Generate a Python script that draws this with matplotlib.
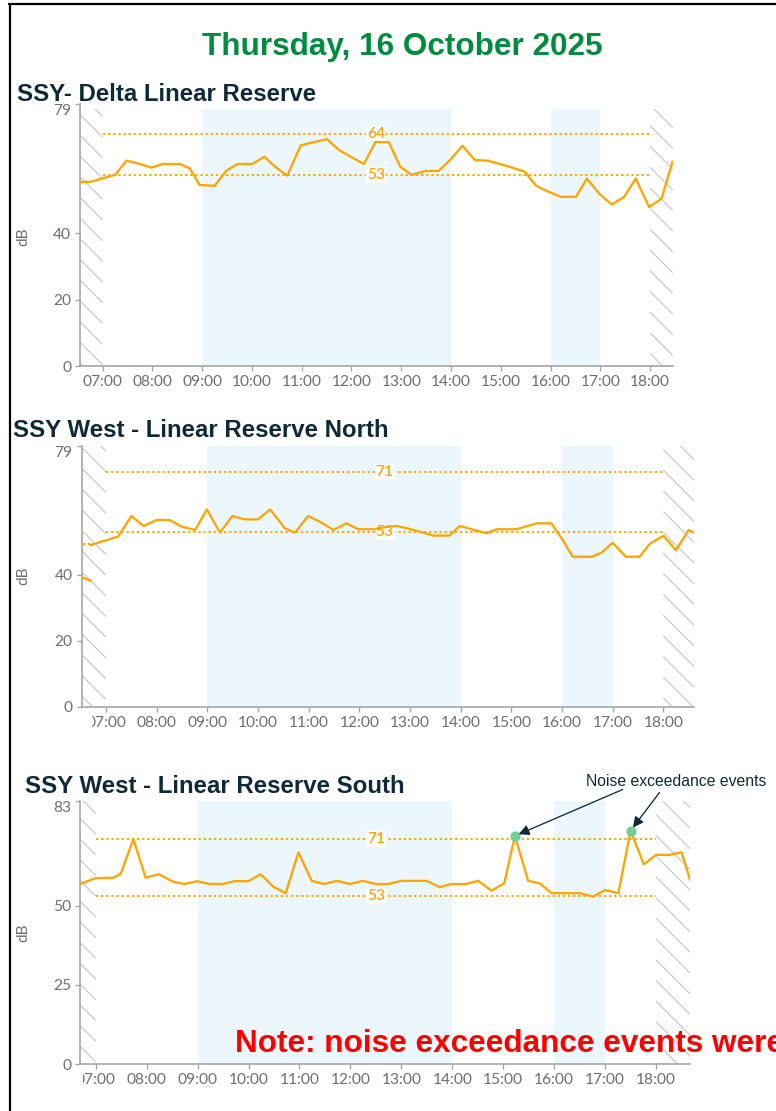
import numpy as np
import matplotlib
matplotlib.use("Agg")
import matplotlib.pyplot as plt
from matplotlib.lines import Line2D
from matplotlib.collections import LineCollection
from matplotlib.transforms import Bbox, TransformedBbox, IdentityTransform

# ---------------- data ----------------
page_title = "Thursday, 16 October 2025"
hour_ticks = list(range(7, 19))
hour_labels = [f"{h:02d}:00" for h in hour_ticks]
work_periods = [(9, 14), (16, 17)]
monitor_start, monitor_end = 7, 18

delta_title = "SSY- Delta Linear Reserve"
delta_t = [6.55, 6.75, 7.0, 7.25, 7.48, 7.68, 7.98, 8.21, 8.55, 8.75, 8.95, 9.25, 9.48,
           9.71, 10.01, 10.25, 10.48, 10.71, 10.98, 11.21, 11.51, 11.75, 12.01, 12.25,
           12.48, 12.75, 12.98, 13.21, 13.48, 13.75, 13.98, 14.23, 14.48, 14.75, 14.98,
           15.21, 15.48, 15.71, 15.95, 16.21, 16.51, 16.73, 16.98, 17.23, 17.48, 17.71,
           17.98, 18.23, 18.45]
delta_db = [55.5, 55.5, 56.6, 57.6, 61.9, 61.2, 59.8, 60.9, 60.9, 59.6, 54.6, 54.3, 58.8,
            60.9, 60.9, 63.1, 59.9, 57.4, 66.5, 67.4, 68.4, 65.1, 62.9, 60.9,
            67.5, 67.5, 60.1, 57.6, 58.8, 58.8, 62.1, 66.4, 62.1, 61.9, 60.9,
            59.9, 58.6, 54.3, 52.6, 51.0, 51.0, 56.5, 51.9, 48.7, 51.0, 56.5,
            47.9, 50.5, 61.6]
delta_limits = [64, 53]
delta_limit_levels = [69.9, 57.6]
delta_yticks = [0, 20, 40, 79]

north_title = "SSY West - Linear Reserve North"
north_t = [6.69, 7.01, 7.24, 7.50, 7.74, 8.00, 8.26, 8.49, 8.76, 8.99, 9.25, 9.49, 9.74,
           10.00, 10.24, 10.53, 10.73, 10.99, 11.22, 11.49, 11.75, 11.98, 12.27, 12.57,
           12.74, 13.02, 13.46, 13.78, 13.98, 14.22, 14.51, 14.71, 15.10, 15.50, 15.79,
           16.00, 16.21, 16.59, 16.78, 17.00, 17.26, 17.53, 17.74, 18.00, 18.25, 18.50,
           18.62]
north_db = [48.9, 50.4, 51.5, 57.7, 54.7, 56.5, 56.5, 54.5, 53.5, 59.7, 52.7, 57.7, 56.7,
            56.7, 59.7, 54.0, 52.7, 57.7, 56.0, 53.5, 55.5, 53.7, 53.7, 54.5,
            54.7, 53.7, 51.8, 51.8, 54.7, 53.7, 52.5, 53.7, 53.7, 55.5, 55.5,
            50.8, 45.4, 45.4, 46.6, 49.6, 45.4, 45.4, 49.4, 51.7, 47.4, 53.5,
            52.5]
north_gap_t = [6.52, 6.69]
north_gap_db = [49.2, 49.2]
north_prev_t = [6.52, 6.70]
north_prev_db = [39.2, 38.1]
north_limits = [71, 53]
north_limit_levels = [71, 53]
north_yticks = [0, 20, 40, 79]

south_title = "SSY West - Linear Reserve South"
south_t = [6.69, 6.99, 7.35, 7.49, 7.74, 7.98, 8.24, 8.52, 8.75, 8.99, 9.24, 9.49, 9.73,
           10.00, 10.24, 10.49, 10.73, 10.98, 11.24, 11.48, 11.74, 11.99, 12.24, 12.50,
           12.74, 13.01, 13.50, 13.75, 13.99, 14.27, 14.51, 14.77, 15.02, 15.23, 15.49,
           15.72, 15.95, 16.25, 16.51, 16.76, 17.00, 17.26, 17.50, 17.76, 18.00, 18.27,
           18.50, 18.67]
south_db = [56.8, 58.6, 58.8, 60.0, 71.0, 58.8, 59.9, 57.5, 56.8, 57.7, 56.8, 56.8, 57.7,
            57.7, 59.9, 55.9, 53.9, 66.8, 57.8, 56.8, 57.8, 56.8, 57.8, 56.8,
            56.8, 57.8, 57.8, 55.8, 56.8, 56.8, 57.8, 54.7, 57.0, 72.0, 57.8,
            57.0, 53.9, 53.9, 53.9, 52.8, 54.9, 53.9, 73.6, 63.0, 66.0, 66.0,
            66.8, 58.1]
south_limits = [71, 53]
south_limit_levels = [71, 53]
south_yticks = [0, 25, 50, 83]
event_t = [15.23, 17.50]
event_db = [72.0, 73.6]
event_text = "Noise exceedance events"
note_text = "Note: noise exceedance events were"

# ---------------- style ----------------
DPI = 124
W, H = 776, 1111
PT = 72 / DPI          # points per pixel
ORANGE = "#FFA500"
SHADE = "#EBF6FD"
HATCH = "#C8C8C8"
HATCH_STEP = 20.7      # pixels between hatch lines
AXIS = "#A3A3A3"
TICKTXT = "#6E6E6E"
NAVY = "#0E2A38"
GREEN = "#008C3F"
EVENT = "#6FD096"

plt.rcParams["font.family"] = ["Lato", "DejaVu Sans"]

fig = plt.figure(figsize=((W + 0.01) / DPI, (H + 0.01) / DPI), dpi=DPI)
fig.patch.set_facecolor("white")


def fx(x):
    return x / W


def fy(y):
    return 1 - y / H


def hatch_span(ax, t0, t1, top_frac):
    """Diagonal '\\' texture over the time span t0..t1 (display pixels)."""
    (x0, y0), = ax.transAxes.transform([(0, 0)])
    (_, y1), = ax.transAxes.transform([(0, top_frac)])
    xa = ax.transData.transform((t0, 0))[0]
    xb = ax.transData.transform((t1, 0))[0]
    xa, xb = max(xa, x0), xb
    # in display coords (y up) a '\' line is y = -x + c
    cmin, cmax = y0 + xa, y1 + xb
    cs = np.arange(np.floor(cmin / HATCH_STEP) * HATCH_STEP, cmax + HATCH_STEP, HATCH_STEP)
    segs = [[(xa, -xa + c), (xb, -xb + c)] for c in cs]
    lc = LineCollection(segs, colors=HATCH, linewidths=1.2 * PT,
                        transform=IdentityTransform(), zorder=0.5)
    ax.add_collection(lc, autolim=False)
    lc.set_clip_box(Bbox.from_extents(xa, y0, xb, y1))


def panel(box, xlim, ylim, yticks, t, db, limits, levels, title, title_xy, ylab_y,
          clip_left=None, shade_top=1.0):
    left, top, right, bottom = box
    ax = fig.add_axes([fx(left), fy(bottom), (right - left) / W, (bottom - top) / H])
    ax.set_xlim(*xlim)
    ax.set_ylim(*ylim)
    for a, b in work_periods:
        ax.axvspan(a, b, ymax=shade_top, color=SHADE, lw=0, zorder=0)
    hatch_span(ax, xlim[0], monitor_start, shade_top)
    hatch_span(ax, monitor_end, xlim[1], shade_top)
    for lim, lev in zip(limits, levels):
        ax.hlines(lev, monitor_start, monitor_end, colors=ORANGE, lw=1.9 * PT,
                  linestyles=(0, (1.2, 1.5)), zorder=1.5)
        ax.text(12.5, lev, str(lim), ha="center", va="center", color=ORANGE,
                fontsize=15.5 * PT, fontweight="semibold", zorder=2,
                bbox=dict(facecolor="white", edgecolor="none", pad=0.5))
    ax.plot(t, db, color=ORANGE, lw=2.3 * PT, zorder=3, solid_joinstyle="round")
    for s in ("top", "right"):
        ax.spines[s].set_visible(False)
    for s in ("left", "bottom"):
        ax.spines[s].set_color(AXIS)
        ax.spines[s].set_linewidth(1.6 * PT)
    ax.set_xticks(hour_ticks)
    ax.set_xticklabels(hour_labels)
    ax.set_yticks(yticks)
    ax.tick_params(axis="x", length=5 * PT, width=1.3 * PT, color=AXIS,
                   labelcolor=TICKTXT, labelsize=15.5 * PT, pad=4 * PT)
    ax.tick_params(axis="y", length=5 * PT, width=1.3 * PT, color=AXIS,
                   labelcolor=TICKTXT, labelsize=15.5 * PT, pad=4 * PT)
    ax.get_yticklabels()[-1].set_va("top")
    if clip_left is not None:
        cb = TransformedBbox(Bbox.from_extents(fx(clip_left), 0, fx(right + 2), 1),
                             fig.transFigure)
        for tk in ax.xaxis.get_major_ticks():
            tk.label1.set_clip_box(cb)
            tk.label1.set_clip_on(True)
    fig.text(fx(title_xy[0]), fy(title_xy[1]), title, ha="left", va="baseline",
             fontsize=24 * PT, fontweight="bold", color=NAVY,
             family=["Liberation Sans", "DejaVu Sans"])
    fig.text(fx(23), fy(ylab_y), "dB", rotation=90, ha="center", va="center",
             fontsize=15.5 * PT, color=TICKTXT)
    return ax


ax1 = panel((80, 104, 672.7, 366), (6.546, 18.454), (0, 79), delta_yticks,
            delta_t, delta_db, delta_limits, delta_limit_levels, delta_title,
            (17, 100.7), 237, shade_top=0.98)
ax2 = panel((81.7, 445.7, 694.3, 706.7), (6.520, 18.612), (0, 79), north_yticks,
            north_t, north_db, north_limits, north_limit_levels, north_title,
            (13, 436.7), 576, clip_left=91.5)
ax2.plot(north_gap_t, north_gap_db, color=ORANGE, lw=2.0 * PT, ls=(0, (1.5, 1.5)),
         zorder=3)
ax2.plot(north_prev_t, north_prev_db, color=ORANGE, lw=2.3 * PT, zorder=3)
ax3 = panel((80, 801, 690, 1064), (6.692, 18.667), (0, 83), south_yticks,
            south_t, south_db, south_limits, south_limit_levels, south_title,
            (25, 793.3), 933, clip_left=82.5)
ax3.plot(event_t, event_db, ls="none", marker="o", ms=8.5 * PT, color=EVENT,
         mec=EVENT, zorder=4)

# annotation arrows from label to the exceedance events
tails = [(622.7, 789.5), (659.5, 792.5)]
for (tx, ty), et, ed in zip(tails, event_t, event_db):
    ax3.annotate("", xy=(et, ed), xycoords="data",
                 xytext=(tx, H - ty), textcoords="figure pixels",
                 arrowprops=dict(arrowstyle="-|>", color=NAVY, lw=1.3 * PT,
                                 mutation_scale=22 * PT, shrinkA=0, shrinkB=4 * PT),
                 zorder=6, annotation_clip=False)
fig.text(fx(585.7), fy(785.7), event_text, ha="left", va="baseline",
         fontsize=15.8 * PT, color=NAVY, family=["Liberation Sans", "DejaVu Sans"])

# red note
fig.text(fx(234.5), fy(1051.5), note_text, ha="left", va="baseline",
         fontsize=31.5 * PT, fontweight="bold", color="#FF0000",
         family=["Liberation Sans", "DejaVu Sans"], zorder=10)

# page title
fig.text(fx(402.5), fy(55), page_title, ha="center", va="baseline",
         fontsize=31.5 * PT, fontweight="bold", color=GREEN,
         family=["Liberation Sans", "DejaVu Sans"])

# page frame (left and top edges visible)
fig.add_artist(Line2D([fx(9.5), fx(9.5)], [0, fy(4.2)], transform=fig.transFigure,
                      color="black", lw=2.2 * PT, solid_capstyle="butt"))
fig.add_artist(Line2D([fx(8.4), 1], [fy(4.2), fy(4.2)], transform=fig.transFigure,
                      color="black", lw=2.2 * PT, solid_capstyle="butt"))

fig.savefig("out.png", dpi=DPI, facecolor="white")
